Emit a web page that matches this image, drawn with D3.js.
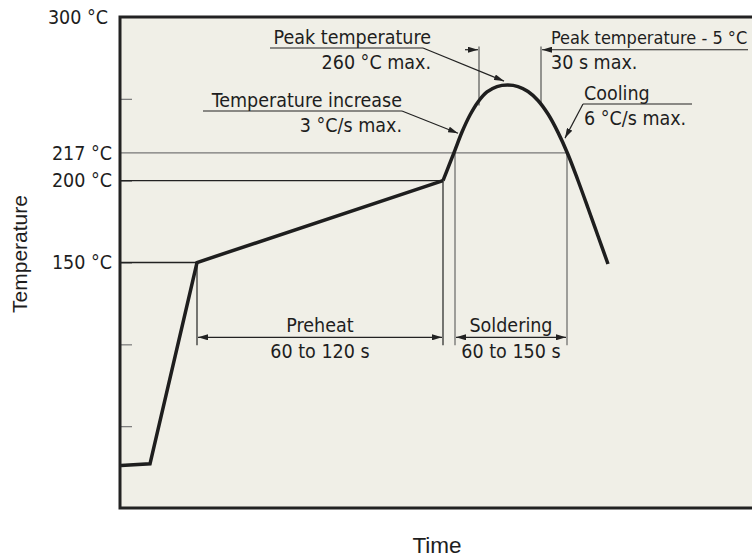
<!DOCTYPE html>
<html>
<head>
<meta charset="utf-8">
<script src="https://cdn.jsdelivr.net/npm/d3@7"></script>
<style>
  body { margin: 0; background: #fff; }
  svg text { fill: #1e1e1e; }
</style>
</head>
<body>
<div id="chart"></div>
<script>
// solder reflow profile, time in s (no axis scale shown), temperature in °C
const rampTime = [0.5, 15, 38.5, 161.5];
const rampTemp = [26, 27, 150, 200];
const reflowTime = [161.5, 164.5, 167.5, 171, 175, 179, 183.5, 188.5, 194,
    199, 204, 209, 214, 219, 224, 229, 234, 239, 244];
const reflowTemp = [200, 209.3, 218.7, 229.7, 240.1, 248.1, 254.2, 257.5, 258.4,
    257.5, 254.5, 249.0, 240.7, 229.5, 216.0, 200.1, 183.3, 166.2, 149.1];

const yTicks = [300, 250, 217, 200, 150, 100, 50];
const yTickLabels = ['300 °C', '', '217 °C', '200 °C', '150 °C', '', ''];

const phaseNames = ['Preheat', 'Soldering'];
const phaseRanges = ['60 to 120 s', '60 to 150 s'];
const phaseStart = [38.5, 167.5];
const phaseEnd = [161.5, 223.5];

const peakWindow = [179.5, 210.5];

let dim = { width: 752, height: 558 };
let font = "'DejaVu Sans Condensed', 'DejaVu Sans', sans-serif";

let svg = d3.select('#chart').append('svg')
    .attr('width', dim.width)
    .attr('height', dim.height)
    .style('display', 'block');

let x = d3.scaleLinear().domain([0, 316]).range([120, 752]);
let y = d3.scaleLinear().domain([0, 300]).range([508, 17]);

// arrow markers
let defs = svg.append('defs');
defs.append('marker')
    .attr('id', 'arr')
    .attr('viewBox', '0 0 10 6')
    .attr('refX', 10).attr('refY', 3)
    .attr('markerWidth', 10).attr('markerHeight', 6)
    .attr('markerUnits', 'userSpaceOnUse')
    .attr('orient', 'auto-start-reverse')
    .append('path').attr('d', 'M0,0 L10,3 L0,6 Z').attr('fill', '#222');

// plot background
svg.append('rect')
    .attr('x', 120).attr('y', 17)
    .attr('width', 632).attr('height', 491)
    .attr('fill', '#f0efe7');

// y axis: ticks inward, labels outside
let yAxis = d3.axisLeft(y)
    .tickValues(yTicks)
    .tickSize(-12)
    .tickPadding(8)
    .tickFormat((d, i) => yTickLabels[i]);

let ga = svg.append('g')
    .attr('transform', 'translate(120,0)')
    .call(yAxis);
ga.select('.domain').remove();
ga.selectAll('.tick line').attr('stroke', '#777').attr('stroke-width', 1.2)
    .attr('display', d => (d === 300 || d === 217) ? 'none' : null);
ga.selectAll('.tick text')
    .attr('font-family', font)
    .attr('font-size', 19.5)
    .attr('fill', '#1e1e1e')
    .attr('dx', d => d === 300 ? -4 : 0);

// reference lines
function hline(temp, t, color) {
    svg.append('line')
        .attr('x1', x(0) - 1).attr('x2', x(t))
        .attr('y1', y(temp)).attr('y2', y(temp))
        .attr('stroke', color).attr('stroke-width', 1.3);
}
hline(217, phaseEnd[1], '#777');
hline(200, rampTime[3], '#222');
hline(150, rampTime[2], '#222');

// phase dimensions
phaseNames.forEach(function(name, i) {
    let c = i === 0 ? '#222' : '#666';
    let top = i === 0 ? [150, 200] : [217, 217];
    svg.append('line')
        .attr('x1', x(phaseStart[i])).attr('x2', x(phaseStart[i]))
        .attr('y1', y(top[0])).attr('y2', y(99.5))
        .attr('stroke', c).attr('stroke-width', 1.2);
    svg.append('line')
        .attr('x1', x(phaseEnd[i])).attr('x2', x(phaseEnd[i]))
        .attr('y1', y(top[1])).attr('y2', y(99.5))
        .attr('stroke', c).attr('stroke-width', 1.2);
    svg.append('line')
        .attr('x1', x(phaseStart[i]) + 1).attr('x2', x(phaseEnd[i]) - 1)
        .attr('y1', y(104.3)).attr('y2', y(104.3))
        .attr('stroke', '#222').attr('stroke-width', 1.2)
        .attr('marker-start', 'url(#arr)')
        .attr('marker-end', 'url(#arr)');
    let cx = (x(phaseStart[i]) + x(phaseEnd[i])) / 2;
    svg.append('text').attr('x', cx).attr('y', y(104.3) - 5)
        .attr('text-anchor', 'middle').attr('font-family', font).attr('font-size', 19.5)
        .text(name);
    svg.append('text').attr('x', cx).attr('y', y(104.3) + 21)
        .attr('text-anchor', 'middle').attr('font-family', font).attr('font-size', 19.5)
        .text(phaseRanges[i]);
});

// peak - 5 °C window
peakWindow.forEach(function(t) {
    svg.append('line')
        .attr('x1', x(t)).attr('x2', x(t))
        .attr('y1', y(282)).attr('y2', y(246))
        .attr('stroke', '#555').attr('stroke-width', 1.2);
});
svg.append('line')
    .attr('x1', x(peakWindow[0]) - 14).attr('x2', x(peakWindow[0]) - 1)
    .attr('y1', y(280)).attr('y2', y(280))
    .attr('stroke', '#222').attr('stroke-width', 1.2)
    .attr('marker-end', 'url(#arr)');
svg.append('line')
    .attr('x1', 748).attr('x2', x(peakWindow[1]) + 1)
    .attr('y1', y(280)).attr('y2', y(280))
    .attr('stroke', '#222').attr('stroke-width', 1.2)
    .attr('marker-end', 'url(#arr)');

// profile curve
let line = d3.line().x(d => x(d[0])).y(d => y(d[1]));
svg.append('path')
    .datum(d3.zip(rampTime, rampTemp))
    .attr('d', line)
    .attr('fill', 'none').attr('stroke', '#1e1e1e').attr('stroke-width', 3.5)
    .attr('stroke-linejoin', 'miter');
svg.append('path')
    .datum(d3.zip(reflowTime, reflowTemp))
    .attr('d', line.curve(d3.curveCatmullRom.alpha(0.5)))
    .attr('fill', 'none').attr('stroke', '#1e1e1e').attr('stroke-width', 3.5);

// leader annotations
function leader(lines, tx, ty, anchor, ux1, ux2, ax, ay, lineTo) {
    svg.append('text').attr('x', tx).attr('y', ty)
        .attr('text-anchor', anchor).attr('font-family', font).attr('font-size', 19.5)
        .text(lines[0]);
    svg.append('text').attr('x', tx).attr('y', ty + 25)
        .attr('text-anchor', anchor).attr('font-family', font).attr('font-size', 19.5)
        .text(lines[1]);
    svg.append('line')
        .attr('x1', ux1).attr('x2', ux2).attr('y1', ty + 4).attr('y2', ty + 4)
        .attr('stroke', '#222').attr('stroke-width', 1.2);
    svg.append('line')
        .attr('x1', lineTo).attr('y1', ty + 4).attr('x2', ax).attr('y2', ay)
        .attr('stroke', '#222').attr('stroke-width', 1.2)
        .attr('marker-end', 'url(#arr)');
}
leader(['Peak temperature', '260 °C max.'], 431, 44, 'end', 270, 423,
    x(reflowTime[8]) - 4, y(reflowTemp[8]) - 4, 423);
leader(['Temperature increase', '3 °C/s max.'], 402, 107, 'end', 203, 402,
    x(169), y(229), 402);
leader(['Cooling', '6 °C/s max.'], 584, 100, 'start', 583, 692,
    x(222.5), y(226), 583);

svg.append('text').attr('x', 551).attr('y', 44)
    .attr('font-family', font).attr('font-size', 18)
    .text('Peak temperature - 5 °C');
svg.append('text').attr('x', 551).attr('y', 69)
    .attr('font-family', font).attr('font-size', 19.5)
    .text('30 s max.');

// frame
svg.append('path')
    .attr('d', 'M752,17 H120 V508 H752')
    .attr('fill', 'none').attr('stroke', '#222').attr('stroke-width', 3);

// axis titles
svg.append('text')
    .attr('transform', 'translate(27,254) rotate(-90)')
    .attr('text-anchor', 'middle')
    .attr('font-family', "'Liberation Sans', Arial, sans-serif")
    .attr('font-size', 21)
    .text('Temperature');
svg.append('text')
    .attr('x', 437).attr('y', 553)
    .attr('text-anchor', 'middle')
    .attr('font-family', "'Liberation Sans', Arial, sans-serif")
    .attr('font-size', 22.5)
    .text('Time');
</script>
</body>
</html>
